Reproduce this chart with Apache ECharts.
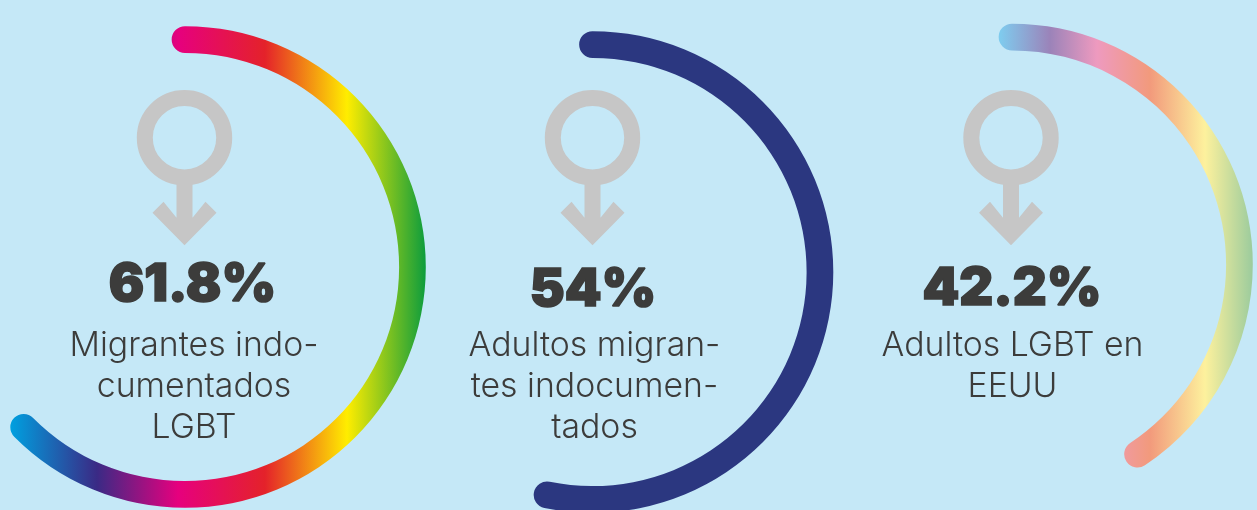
<!DOCTYPE html>
<html>
<head>
<meta charset="utf-8">
<title>Migrantes LGBT</title>
<style>
html,body{margin:0;padding:0;background:#c5e8f7;}
#main{width:1257px;height:510px;}
</style>
<script src="https://cdn.jsdelivr.net/npm/echarts@6/dist/echarts.min.js"></script>
</head>
<body>
<div id="main"></div>
<script>
// values and labels
const percentages = [61.8, 54, 42.2];
const labels = ['Migrantes indo-\ncumentados\nLGBT', 'Adultos migran-\ntes indocumen-\ntados', 'Adultos LGBT en\nEEUU'];
// the drawn arcs are not quite to scale, so each ring has its own full-circle value
const fullCircle = [98.8, 101.5, 103.7];

const centers = [[185, 267], [592.5, 272], [1012, 264.5]];
const symbolX = [184.5, 592.5, 1011];
const RADIUS = 240.8, RING = 26.7;
const numberOffset = [[7.5, 18], [0.5, 18], [0, 25]];
const labelOffset = [[9, 120], [2, 115], [0.5, 102]];

function hGradient(x0, x1, stops) {
	return {
		type: 'linear', global: true, x: x0, y: 0, x2: x1, y2: 0,
		colorStops: stops.map(s => ({offset: (s[0] - x0) / (x1 - x0), color: s[1]}))
	};
}
const ringColors = [
	hGradient(11, 425, [[11, '#009fdf'], [97, '#3a2a85'], [178, '#e6007e'], [265, '#e4222a'], [347, '#ffed00'], [425, '#0f9d3c']]),
	'#2b3780',
	hGradient(1000, 1252, [[1000, '#7fcbee'], [1050, '#9b83b9'], [1097, '#ee9abf'], [1150, '#f29a7c'], [1205, '#fdf19d'], [1252, '#9dcc9d']])
];

const series = percentages.map((value, i) => ({
	type: 'gauge',
	center: centers[i],
	radius: RADIUS,
	startAngle: 90,
	endAngle: -270,
	min: 0,
	max: fullCircle[i],
	silent: true,
	animation: false,
	pointer: {show: false},
	axisLine: {show: false},
	axisTick: {show: false},
	splitLine: {show: false},
	axisLabel: {show: false},
	progress: {show: true, roundCap: true, width: RING, itemStyle: {color: ringColors[i]}},
	title: {
		offsetCenter: labelOffset[i],
		color: '#3c3c3b',
		fontFamily: 'Inter',
		fontWeight: 300,
		fontSize: 33.8,
		lineHeight: 41
	},
	detail: {
		offsetCenter: numberOffset[i],
		formatter: '{value}%',
		color: '#3c3c3b',
		fontFamily: 'Inter',
		fontWeight: 900,
		fontSize: 52.5,
		textBorderColor: '#3c3c3b',
		textBorderWidth: 1.6
	},
	data: [{value: value, name: labels[i]}]
}));

// male symbol: ring plus arrow stem and head
function maleSymbol(cx) {
	return {
		type: 'group', x: cx, y: 137.7, silent: true,
		children: [
			{type: 'circle', shape: {cx: 0, cy: 0, r: 39.7}, style: {fill: 'none', stroke: '#c6c6c6', lineWidth: 16}},
			{type: 'polygon', shape: {points: [[-8, 44], [8, 44], [8, 80], [21, 64], [32, 75], [0, 107.5], [-32, 75], [-21, 64], [-8, 80]]}, style: {fill: '#c6c6c6'}}
		]
	};
}

const myChart = echarts.init(document.getElementById('main'), null, {width: 1257, height: 510});
myChart.setOption({
	backgroundColor: '#c5e8f7',
	animation: false,
	graphic: symbolX.map(x => maleSymbol(x)),
	series: series
});
</script>
</body>
</html>
